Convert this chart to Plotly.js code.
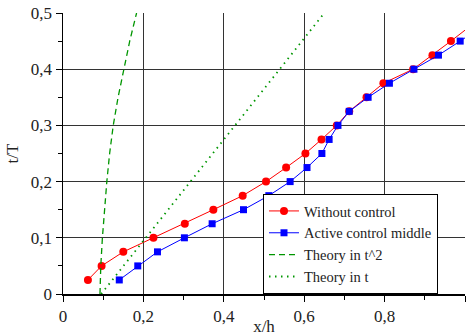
<!DOCTYPE html>
<html>
<head>
<meta charset="utf-8">
<script src="https://cdn.plot.ly/plotly-3.0.1.min.js"></script>
<style>html,body{margin:0;padding:0;background:#fff;}#chart{width:467px;height:336px;}</style>
</head>
<body>
<div id="chart"></div>
<script>
// Time values (t/T)
const tRed = [0.025,0.05,0.075,0.1,0.125,0.15,0.175,0.2,0.225,0.25,0.275,0.3,0.325,0.35,0.375,0.4,0.425,0.45,0.475];
const xRed = [0.062,0.096,0.15,0.225,0.303,0.374,0.447,0.505,0.555,0.603,0.643,0.681,0.712,0.755,0.797,0.871,0.919,0.965,1.01];
const tBlue = [0.025,0.05,0.075,0.1,0.125,0.15,0.175,0.2,0.225,0.25,0.275,0.3,0.325,0.35,0.375,0.4,0.425,0.45,0.475];
const xBlue = [0.14,0.186,0.235,0.302,0.371,0.449,0.512,0.565,0.607,0.644,0.662,0.684,0.712,0.759,0.812,0.873,0.934,0.988,1.04];
const tSq = [0,0.05,0.1,0.15,0.2,0.25,0.3,0.35,0.4,0.45,0.5];
const xSq = [0.092,0.094,0.098,0.103,0.109,0.116,0.125,0.137,0.151,0.166,0.183];
const tLin = [0,0.5];
const xLin = [0.095,0.65];
const names = ["Without control","Active control middle","Theory in t^2","Theory in t"];
const xTicks = [0,0.2,0.4,0.6,0.8,1];
const yTicks = [0,0.1,0.2,0.3,0.4,0.5];

const green = 'rgb(0,150,0)';
const traces = [
  {x:xRed, y:tRed, name:names[0], mode:'lines+markers', type:'scatter',
   line:{color:'#ff0000', width:1}, marker:{color:'#ff0000', symbol:'circle', size:8}},
  {x:xBlue, y:tBlue, name:names[1], mode:'lines+markers', type:'scatter',
   line:{color:'#0000ff', width:1}, marker:{color:'#0000ff', symbol:'square', size:7}},
  {x:xSq, y:tSq, name:names[2], mode:'lines', type:'scatter',
   line:{color:green, width:1.3, dash:'6px,4px'}},
  {x:xLin, y:tLin, name:names[3], mode:'lines', type:'scatter',
   line:{color:green, width:1.8, dash:'1.5px,4.5px'}}
];
const fam = 'Liberation Serif, serif';
const f = (s) => ({family:fam, size:s, color:'#222'});
const layout = {
  width:467, height:336,
  margin:{l:63, r:2, t:13, b:42},
  paper_bgcolor:'#fff', plot_bgcolor:'#fff',
  separators:', ',
  font:f(17),
  showlegend:true,
  xaxis:{range:[0,1], tickvals:xTicks, ticks:'outside', ticklen:6, tickcolor:'#000',
         showgrid:true, gridcolor:'#333', gridwidth:1, zeroline:false,
         showline:true, linecolor:'#000', linewidth:1.5, mirror:false,
         minor:{dtick:0.1, ticks:'outside', ticklen:4, tickcolor:'#000', showgrid:false},
         title:{text:'x/h', font:f(17), standoff:0},
         tickfont:f(17), automargin:false},
  yaxis:{range:[0,0.5], tickvals:yTicks, ticks:'outside', ticklen:6, tickcolor:'#000',
         showgrid:true, gridcolor:'#333', gridwidth:1, zeroline:false,
         showline:true, linecolor:'#000', linewidth:1.5,
         minor:{dtick:0.05, ticks:'outside', ticklen:4, tickcolor:'#000', showgrid:false},
         title:{text:'t/T', font:f(17), standoff:8},
         tickfont:f(17), automargin:false},
  legend:{x:0.4975, y:0.0, xanchor:'left', yanchor:'bottom', bgcolor:'#fff',
          bordercolor:'#000', borderwidth:1,
          font:f(14.5),
          tracegroupgap:0, itemwidth:30}
};
Plotly.newPlot('chart', traces, layout, {staticPlot:true, displayModeBar:false});
</script>
</body>
</html>
